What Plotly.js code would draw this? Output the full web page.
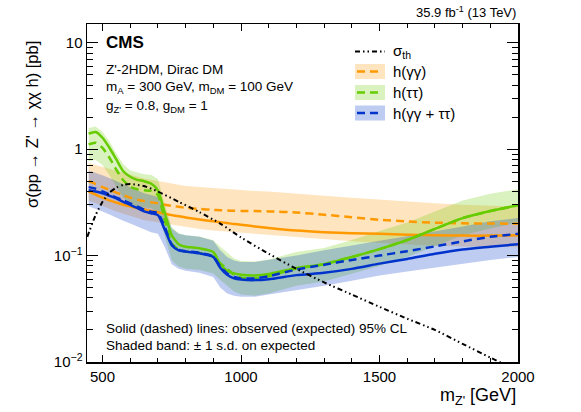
<!DOCTYPE html>
<html>
<head>
<meta charset="utf-8">
<script src="https://cdn.plot.ly/plotly-3.0.1.min.js"></script>
<style>html,body{margin:0;padding:0;background:#fff}#chart{width:581px;height:412px}</style>
</head>
<body>
<div id="chart"></div>
<script>
// ---- data ----
const mass = [450,475,500,525,550,575,600,625,650,675,700,725,750,775,800,850,900,925,950,975,1000,1050,1100,1200,1300,1400,1500,1600,1700,1800,1900,2000];

// h(gamma gamma)
const ggObs = [0.40,0.375,0.35,0.33,0.315,0.30,0.29,0.28,0.272,0.263,0.255,0.247,0.24,0.234,0.228,0.218,0.21,0.206,0.202,0.198,0.195,0.188,0.182,0.172,0.166,0.162,0.16,0.157,0.155,0.154,0.154,0.155];
const ggExp = [0.50,0.47,0.44,0.415,0.39,0.37,0.35,0.335,0.325,0.317,0.31,0.30,0.294,0.287,0.281,0.274,0.269,0.267,0.265,0.264,0.263,0.262,0.26,0.254,0.242,0.229,0.217,0.209,0.204,0.201,0.20,0.199];
const ggHi  = [0.74,0.71,0.68,0.65,0.62,0.595,0.57,0.55,0.53,0.515,0.50,0.485,0.47,0.46,0.45,0.44,0.43,0.425,0.42,0.415,0.41,0.405,0.40,0.38,0.365,0.35,0.335,0.32,0.31,0.30,0.295,0.29];
const ggLo  = [0.33,0.31,0.29,0.275,0.26,0.247,0.235,0.225,0.215,0.21,0.205,0.20,0.195,0.19,0.185,0.178,0.172,0.17,0.167,0.165,0.163,0.159,0.155,0.148,0.142,0.136,0.131,0.127,0.124,0.122,0.121,0.12];

// h(tau tau)
const ttObs = [1.40,1.45,1.28,1.03,0.80,0.62,0.55,0.515,0.50,0.475,0.41,0.25,0.155,0.128,0.121,0.117,0.108,0.083,0.072,0.068,0.066,0.065,0.067,0.0765,0.083,0.097,0.115,0.14,0.178,0.225,0.262,0.297];
const ttExp = [1.11,1.15,1.03,0.83,0.64,0.51,0.445,0.42,0.41,0.405,0.37,0.215,0.13,0.114,0.109,0.106,0.098,0.085,0.075,0.066,0.062,0.061,0.064,0.0755,0.083,0.097,0.115,0.14,0.178,0.225,0.262,0.297];
const ttHi  = [1.58,1.63,1.46,1.18,0.91,0.72,0.63,0.60,0.58,0.575,0.525,0.305,0.185,0.162,0.155,0.151,0.139,0.121,0.107,0.094,0.089,0.088,0.092,0.108,0.118,0.14,0.17,0.205,0.26,0.33,0.38,0.42];
const ttLo  = [0.77,0.79,0.71,0.57,0.44,0.35,0.305,0.29,0.283,0.28,0.255,0.148,0.09,0.079,0.075,0.073,0.068,0.059,0.052,0.046,0.043,0.042,0.044,0.052,0.057,0.067,0.08,0.097,0.123,0.155,0.18,0.205];

// h(gamma gamma + tau tau)
const cbObs = [0.41,0.40,0.385,0.365,0.345,0.32,0.30,0.28,0.26,0.25,0.24,0.175,0.125,0.112,0.109,0.105,0.097,0.077,0.066,0.061,0.0595,0.0588,0.060,0.0655,0.069,0.075,0.084,0.093,0.104,0.114,0.121,0.128];
const cbExp = [0.44,0.425,0.40,0.375,0.35,0.33,0.31,0.29,0.27,0.258,0.25,0.185,0.127,0.113,0.110,0.106,0.098,0.079,0.068,0.063,0.061,0.061,0.064,0.074,0.082,0.091,0.10,0.11,0.122,0.136,0.15,0.16];
const cbHi  = [0.63,0.60,0.57,0.535,0.50,0.47,0.44,0.41,0.385,0.37,0.355,0.265,0.18,0.16,0.155,0.15,0.138,0.112,0.097,0.09,0.087,0.087,0.091,0.10,0.112,0.125,0.138,0.152,0.168,0.188,0.21,0.225];
const cbLo  = [0.29,0.275,0.26,0.243,0.225,0.212,0.20,0.187,0.175,0.166,0.16,0.12,0.083,0.075,0.072,0.069,0.063,0.05,0.044,0.042,0.041,0.041,0.043,0.047,0.052,0.058,0.065,0.071,0.077,0.084,0.091,0.097];

// theory cross section
const thMass = [445,475,500,525,550,575,600,650,700,775,850,925,1000,1100,1200,1300,1400,1500,1600,1700,1800,1900,2000];
const thXsec = [0.15,0.24,0.32,0.39,0.435,0.462,0.47,0.45,0.40,0.32,0.256,0.20,0.148,0.104,0.075,0.056,0.043,0.033,0.0255,0.020,0.0148,0.0110,0.0083];

// axis ticks
const yMajor = [0.01,0.1,1,10];
const yMajorText = ['10<sup>\u22122</sup>','10<sup>\u22121</sup>','1','10'];
const yMinor = [0.02,0.03,0.04,0.05,0.06,0.07,0.08,0.09,0.2,0.3,0.4,0.5,0.6,0.7,0.8,0.9,2,3,4,5,6,7,8,9];

// ---- styling ----
const FONT = 'Liberation Sans, Arial, Helvetica, sans-serif';
const cOr = 'rgb(255,153,0)', cGr = 'rgb(102,204,0)', cBl = 'rgb(0,51,204)';
const fOr = 'rgba(255,153,0,0.25)', fGr = 'rgba(102,204,0,0.25)', fBl = 'rgba(0,51,204,0.25)';
const DASH = '8px,5px';
const DASHDOT = '5px,3px,1.5px,3px,1.5px,3px';

function band(lo, hi, fill){
  return [
    {x: mass, y: lo, mode:'lines', line:{width:0, color:fill}, hoverinfo:'skip', showlegend:false},
    {x: mass, y: hi, mode:'lines', line:{width:0, color:fill}, fill:'tonexty', fillcolor:fill, hoverinfo:'skip', showlegend:false}
  ];
}
function curve(y, color, dash){
  return {x: mass, y: y, mode:'lines', line:{color:color, width:2.5, dash:dash, shape:'spline', smoothing:0.6}, showlegend:false};
}

const traces = [].concat(
  band(ggLo, ggHi, fOr),
  band(ttLo, ttHi, fGr),
  band(cbLo, cbHi, fBl),
  [curve(ggExp, cOr, DASH), curve(ggObs, cOr, 'solid'),
   curve(ttExp, cGr, DASH), curve(ttObs, cGr, 'solid'),
   curve(cbExp, cBl, DASH), curve(cbObs, cBl, 'solid'),
   {x: thMass, y: thXsec, mode:'lines', line:{color:'black', width:2, dash:DASHDOT, shape:'spline', smoothing:0.6}, showlegend:false}]
);

// pixel -> paper helpers (layout only)
const L=87, R=518, T=24, B=362;
const px = p => (p-L)/(R-L);
const py = p => (B-p)/(B-T);

const ann = (text, x, y, size, opts) => Object.assign({
  text: text, xref:'paper', yref:'paper', x: px(x), y: py(y), showarrow:false,
  xanchor:'left', yanchor:'middle', font:{family:FONT, size:size, color:'black'}
}, opts||{});

const annotations = [
  ann('<b>CMS</b>', 104, 43, 17),
  ann("Z'-2HDM, Dirac DM", 104, 69, 13.5),
  ann('m<sub>A</sub> = 300 GeV, m<sub>DM</sub> = 100 GeV', 104, 88, 13.5),
  ann("g<sub>Z'</sub> = 0.8, g<sub>DM</sub> = 1", 104, 106, 13.5),
  ann('Solid (dashed) lines: observed (expected) 95% CL', 104, 328, 13.5),
  ann('Shaded band: \u00b1 1 s.d. on expected', 104, 345, 13.5),
  ann('35.9 fb<sup>-1</sup> (13 TeV)', 518, 12, 13, {xanchor:'right'}),
  ann("m<sub>Z'</sub> [GeV]", 518, 396, 18, {xanchor:'right'}),
  ann("\u03c3(pp \u2192 Z' \u2192 \u03c7\u03c7 h) [pb]", 32, 124, 16.5, {xanchor:'center', textangle:-90}),
  // legend texts
  ann('\u03c3<sub>th</sub>', 391, 52, 15),
  ann('h(\u03b3\u03b3)', 391, 72, 15),
  ann('h(\u03c4\u03c4)', 391, 92.5, 15),
  ann('h(\u03b3\u03b3 + \u03c4\u03c4)', 391, 113, 15)
];

const lx0 = 355, lx1 = 385;
const shapes = [
  {type:'line', xref:'paper', yref:'paper', x0:px(lx0), x1:px(lx1), y0:py(51.5), y1:py(51.5), line:{color:'black', width:2, dash:DASHDOT}},
  {type:'rect', xref:'paper', yref:'paper', x0:px(lx0), x1:px(lx1), y0:py(64), y1:py(79), fillcolor:fOr, line:{width:0}},
  {type:'line', xref:'paper', yref:'paper', x0:px(lx0+2), x1:px(lx1-2), y0:py(71.5), y1:py(71.5), line:{color:cOr, width:2.5, dash:DASH}},
  {type:'rect', xref:'paper', yref:'paper', x0:px(lx0), x1:px(lx1), y0:py(85), y1:py(100), fillcolor:fGr, line:{width:0}},
  {type:'line', xref:'paper', yref:'paper', x0:px(lx0+2), x1:px(lx1-2), y0:py(92.5), y1:py(92.5), line:{color:cGr, width:2.5, dash:DASH}},
  {type:'rect', xref:'paper', yref:'paper', x0:px(lx0), x1:px(lx1), y0:py(105.5), y1:py(120.5), fillcolor:fBl, line:{width:0}},
  {type:'line', xref:'paper', yref:'paper', x0:px(lx0+2), x1:px(lx1-2), y0:py(113), y1:py(113), line:{color:cBl, width:2.5, dash:DASH}}
];

const layout = {
  width:581, height:412,
  margin:{l:L, r:581-R, t:T, b:412-B, pad:0},
  paper_bgcolor:'white', plot_bgcolor:'white',
  showlegend:false,
  font:{family:FONT, size:15, color:'black'},
  xaxis:{
    range:[444,2000], type:'linear',
    tickmode:'array', tickvals:[500,1000,1500,2000], ticktext:['500','1000','1500','2000'],
    ticks:'inside', ticklen:7, tickwidth:1, tickcolor:'black',
    minor:{ticks:'inside', tickmode:'linear', tick0:0, dtick:100, ticklen:4, tickcolor:'black', showgrid:false},
    showline:true, linecolor:'black', linewidth:1.5, mirror:'allticks',
    showgrid:false, zeroline:false,
    tickfont:{family:FONT, size:15}
  },
  yaxis:{
    type:'log', range:[-2, 1.176],
    tickmode:'array', tickvals:yMajor, ticktext:yMajorText,
    ticks:'inside', ticklen:11, tickwidth:1, tickcolor:'black',
    minor:{ticks:'inside', tickmode:'array', tickvals:yMinor, ticklen:6, tickcolor:'black', showgrid:false},
    showline:true, linecolor:'black', linewidth:1.5, mirror:'allticks',
    showgrid:false, zeroline:false,
    tickfont:{family:FONT, size:15}
  },
  annotations: annotations,
  shapes: shapes
};

Plotly.newPlot('chart', traces, layout, {staticPlot:true, displayModeBar:false});
</script>
</body>
</html>
